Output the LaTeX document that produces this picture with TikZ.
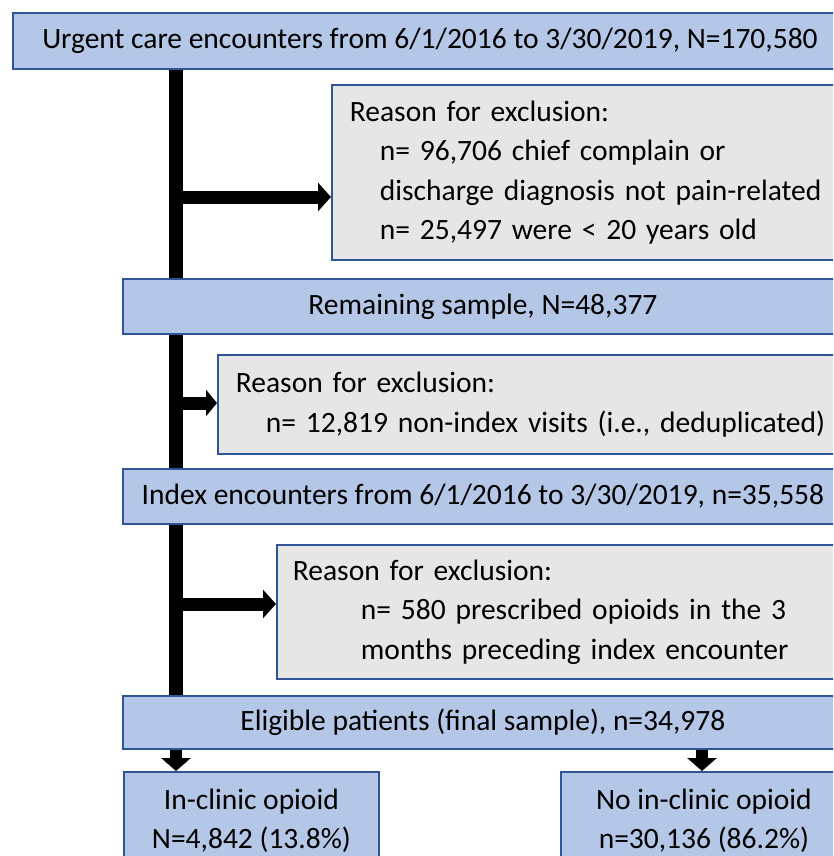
\documentclass[tikz,border=0pt]{standalone}
\usepackage{fontspec}
\setmainfont{Carlito}
\usetikzlibrary{arrows.meta,backgrounds}
\definecolor{bfill}{HTML}{B4C7E7}
\definecolor{bdraw}{HTML}{2F5597}
\definecolor{gfill}{HTML}{E7E6E6}
\tikzset{
  bluebox/.style={draw=bdraw, line width=1.8pt, fill=bfill, anchor=north west, inner sep=0pt, align=center,
    font=\fontsize{29.5}{39}\selectfont},
  graybox/.style={draw=bdraw, line width=1.8pt, fill=gfill, anchor=north west, inner xsep=18pt, inner ysep=0pt, align=left,
    font=\fontsize{29.5}{39.5}\selectfont},
  flow/.style={line width=13pt, -{Triangle[length=13pt,width=28pt]}},
  bar/.style={line width=14pt},
}
\begin{document}
\begin{tikzpicture}[x=1pt,y=-1pt]
\useasboundingbox (0,0) rectangle (833,856);
\clip (0,0) rectangle (833,856);
\node[bluebox, minimum width=834pt, minimum height=56pt] (top) at (12,12) {Urgent care encounters from 6/1/2016 to 3/30/2019, N=170,580};
\node[graybox, text width=479pt, minimum height=175pt] (ex1) at (331,84) {Reason for exclusion:\\\hspace*{30pt}n= 96,706 chief complain or\\\hspace*{30pt}discharge diagnosis not pain-related\\\hspace*{30pt}n= 25,497 were < 20 years old};
\node[bluebox, minimum width=720pt, minimum height=55pt] (rem) at (122,278) {Remaining sample, N=48,377};
\node[graybox, text width=593pt, minimum height=99pt] (ex2) at (217,354) {Reason for exclusion:\\\hspace*{30pt}n= 12,819 non-index visits (i.e., deduplicated)};
\node[bluebox, minimum width=720pt, minimum height=55pt] (idx) at (122,468) {Index encounters from 6/1/2016 to 3/30/2019, n=35,558};
\node[graybox, inner xsep=16pt, text width=538pt, minimum height=134pt] (ex3) at (276,544) {Reason for exclusion:\\\hspace*{68pt}n= 580 prescribed opioids in the 3\\\hspace*{68pt}months preceding index encounter};
\node[bluebox, minimum width=720pt, minimum height=53pt] (elig) at (122,695) {Eligible patients (final sample), n=34,978};
\node[bluebox, minimum width=255pt, minimum height=98pt] (inc) at (123,771) {In-clinic opioid\\N=4,842 (13.8\%)};
\node[bluebox, minimum width=286pt, minimum height=98pt] (noinc) at (560,771) {No in-clinic opioid\\n=30,136 (86.2\%)};
\coordinate (bx) at (176,0);
\coordinate (a1) at (176,197);
\coordinate (a2) at (176,403);
\coordinate (a3) at (176,604);
\coordinate (rx) at (702,0);
\begin{scope}[on background layer]
\draw[bar] (top.south -| bx) -- (elig.north -| bx);
\end{scope}
\draw[flow] (a1) -- (ex1.west |- a1);
\draw[flow, -{Triangle[length=11pt,width=26pt]}] (a2) -- (ex2.west |- a2);
\draw[flow] (a3) -- (ex3.west |- a3);
\draw[line width=12pt, -{Triangle[length=13pt,width=29pt]}] (elig.south -| bx) -- (inc.north -| bx);
\draw[line width=12pt, -{Triangle[length=13pt,width=29pt]}] (elig.south -| rx) -- (noinc.north -| rx);
\end{tikzpicture}
\end{document}
